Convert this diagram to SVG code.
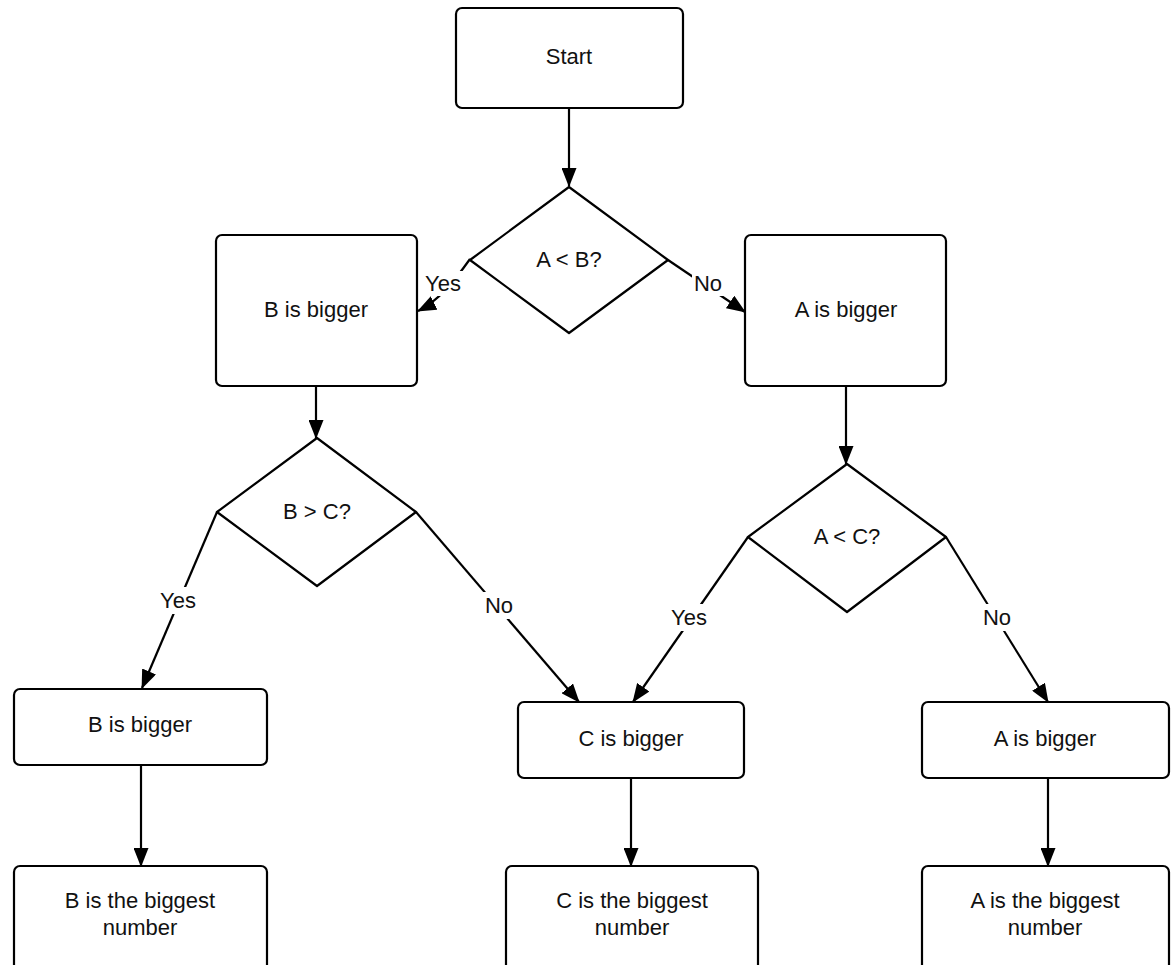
<svg xmlns="http://www.w3.org/2000/svg" width="1171" height="965" viewBox="0 0 1171 965">
<defs>
<marker id="arr" markerUnits="userSpaceOnUse" markerWidth="19" markerHeight="15" refX="18" refY="7.5" orient="auto">
<path d="M0,0 L19,7.5 L0,15 z" fill="#000"/>
</marker>
</defs>
<style>
.box{fill:#fff;stroke:#000;stroke-width:2.2}
.dia{fill:#fff;stroke:#000;stroke-width:2.2;stroke-linejoin:round}
.t{font-family:"Liberation Sans",Arial,sans-serif;font-size:22px;fill:#111;text-anchor:middle;dominant-baseline:central}
.c{fill:none;stroke:#000;stroke-width:2.2}
.lb{fill:#fff}
</style>
<rect width="1171" height="965" fill="#fff"/>
<g id="connectors">
<line class="c" x1="569" y1="108" x2="569" y2="186" marker-end="url(#arr)"/>
<path class="c" d="M470,259 C455,280 440,300 418,311" marker-end="url(#arr)"/>
<line class="c" x1="668" y1="260" x2="745" y2="312" marker-end="url(#arr)"/>
<line class="c" x1="316" y1="386" x2="316" y2="438" marker-end="url(#arr)"/>
<line class="c" x1="846" y1="386" x2="846" y2="464" marker-end="url(#arr)"/>
<line class="c" x1="217" y1="512" x2="142" y2="688" marker-end="url(#arr)"/>
<line class="c" x1="416" y1="512" x2="579" y2="702" marker-end="url(#arr)"/>
<line class="c" x1="748" y1="537" x2="633" y2="702" marker-end="url(#arr)"/>
<line class="c" x1="946" y1="537" x2="1048" y2="702" marker-end="url(#arr)"/>
<line class="c" x1="141" y1="765" x2="141" y2="866" marker-end="url(#arr)"/>
<line class="c" x1="631" y1="778" x2="631" y2="866" marker-end="url(#arr)"/>
<line class="c" x1="1048" y1="778" x2="1048" y2="866" marker-end="url(#arr)"/>
<rect class="lb" x="423" y="271" width="42" height="25"/>
<text class="t" x="443" y="283">Yes</text>
<rect class="lb" x="692" y="271" width="32" height="25"/>
<text class="t" x="708" y="283">No</text>
<rect class="lb" x="157" y="587" width="42" height="27"/>
<text class="t" x="178" y="600">Yes</text>
<rect class="lb" x="483" y="592" width="32" height="27"/>
<text class="t" x="499" y="605">No</text>
<rect class="lb" x="668" y="604" width="42" height="27"/>
<text class="t" x="689" y="617">Yes</text>
<rect class="lb" x="981" y="604" width="32" height="27"/>
<text class="t" x="997" y="617">No</text>
</g>
<g id="start">
<rect class="box" x="456" y="8" width="227" height="100" rx="6"/>
<text class="t" x="569" y="56">Start</text>
</g>
<g id="dec-ab">
<polygon class="dia" points="569,187 668,260 569,333 470,260"/>
<text class="t" x="569" y="259">A &lt; B?</text>
</g>
<g id="b-bigger-1">
<rect class="box" x="216" y="235" width="201" height="151" rx="6"/>
<text class="t" x="316" y="309">B is bigger</text>
</g>
<g id="a-bigger-1">
<rect class="box" x="745" y="235" width="201" height="151" rx="6"/>
<text class="t" x="846" y="309">A is bigger</text>
</g>
<g id="dec-bc">
<polygon class="dia" points="317,438 416,512 317,586 217,512"/>
<text class="t" x="317" y="511">B &gt; C?</text>
</g>
<g id="dec-ac">
<polygon class="dia" points="847,464 946,537 847,612 748,537"/>
<text class="t" x="847" y="536">A &lt; C?</text>
</g>
<g id="b-bigger-2">
<rect class="box" x="14" y="689" width="253" height="76" rx="6"/>
<text class="t" x="140" y="724">B is bigger</text>
</g>
<g id="c-bigger">
<rect class="box" x="518" y="702" width="226" height="76" rx="6"/>
<text class="t" x="631" y="738">C is bigger</text>
</g>
<g id="a-bigger-2">
<rect class="box" x="922" y="702" width="247" height="76" rx="6"/>
<text class="t" x="1045" y="738">A is bigger</text>
</g>
<g id="b-biggest">
<rect class="box" x="14" y="866" width="253" height="106" rx="6"/>
<text class="t" x="140" y="900">B is the biggest</text>
<text class="t" x="140" y="927">number</text>
</g>
<g id="c-biggest">
<rect class="box" x="506" y="866" width="252" height="106" rx="6"/>
<text class="t" x="632" y="900">C is the biggest</text>
<text class="t" x="632" y="927">number</text>
</g>
<g id="a-biggest">
<rect class="box" x="922" y="866" width="247" height="106" rx="6"/>
<text class="t" x="1045" y="900">A is the biggest</text>
<text class="t" x="1045" y="927">number</text>
</g>
</svg>
